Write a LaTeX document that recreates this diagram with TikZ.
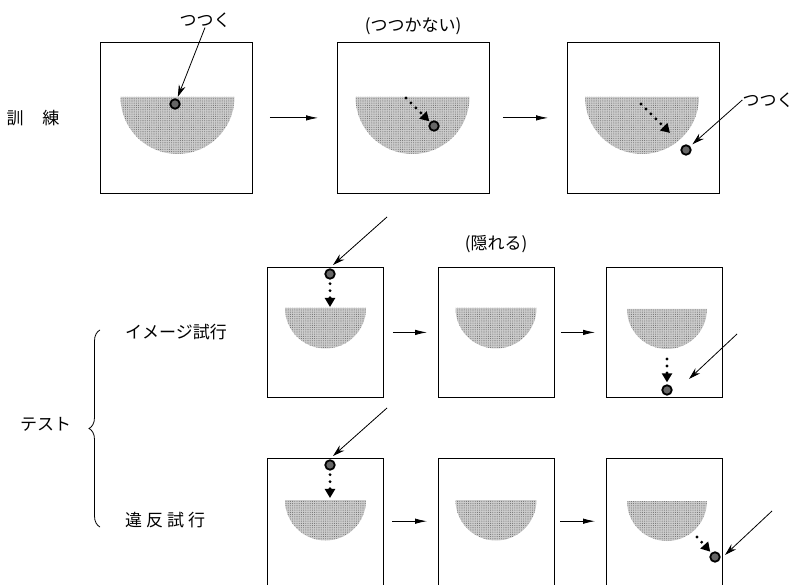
\documentclass[tikz,border=0pt]{standalone}
\usepackage{fontspec}
\newfontfamily\jp{Noto Sans CJK JP}
\usetikzlibrary{arrows.meta,decorations.pathreplacing,patterns.meta}

% half disk with flat top: centre x, top y, radius
\newcommand\halfdisk[3]{%
  \fill[stipple] ({#1-#3},#2) arc[start angle=180,end angle=360,radius=#3pt] -- cycle;
  \fill[stipdots] ({#1-#3},#2) arc[start angle=180,end angle=360,radius=#3pt] -- cycle;}

\begin{document}
\begin{tikzpicture}[x=1pt,y=-1pt,
  frame/.style={draw, line width=0.8pt, inner sep=0pt, anchor=north west},
  openframe/.style={inner sep=0pt, anchor=north west},
  stipple/.style={fill=black!20},
  stipdots/.style={pattern={Dots[distance=2.2pt, radius=0.55pt]}, pattern color=black!55},
  ball/.style={circle, draw, fill=black!60, line width=1.8pt, minimum size=9.5pt, inner sep=0pt},
  dotarrow/.style={line width=3.2pt, line cap=round, dash pattern=on 0pt off 7pt,
                   -{Triangle[length=9pt,width=10pt]}},
  flow/.style={line width=0.8pt, -{Latex[length=12pt,width=5.5pt]}},
  pointer/.style={line width=0.8pt, -{Stealth[length=12pt,width=7pt]}},
  lbl/.style={font=\jp\fontsize{17}{19}\selectfont, inner sep=0pt}]

\clip (0,0) rectangle (796,585);

% ---------- training row ----------
\node[frame, minimum width=152pt, minimum height=151pt] (t1) at (100,42) {};
\node[frame, minimum width=152pt, minimum height=151pt] (t2) at (337,42) {};
\node[frame, minimum width=152pt, minimum height=151pt] (t3) at (567,42) {};
\halfdisk{177.5}{97}{57}
\halfdisk{412.5}{97}{57}
\halfdisk{642}{97}{57}

\node[ball] (b1) at (175,104) {};
\node[ball] (b2) at (434,126) {};
\node[ball] (b3) at (686,150) {};

\coordinate (d2) at (406,98);
\draw[dotarrow, shorten >=1pt] (d2) -- (b2);
\coordinate (d3s) at (641,104);
\coordinate (d3e) at (670,133);
\draw[dotarrow] (d3s) -- (d3e);

\node[lbl] (peck1) at (205,20) {つつく};
\node[lbl] (nopeck) at (413,26) {(つつかない)};
\node[lbl] (peck2) at (768,100) {つつく};
\draw[pointer, shorten >=2pt] (peck1.south) -- (b1);
\draw[pointer, shorten >=3pt] (peck2.west) -- (b3);

\draw[flow, shorten <=17pt, shorten >=19pt] (t1) -- (t2);
\draw[flow, shorten <=13pt, shorten >=19pt] (t2) -- (t3);

\node[lbl] (train) at (33,118) {訓\hspace{19pt}練};

% ---------- imagery trial ----------
\node[frame, minimum width=116pt, minimum height=130pt] (m1) at (267,267) {};
\node[frame, minimum width=116pt, minimum height=130pt] (m2) at (438,267) {};
\node[frame, minimum width=116pt, minimum height=130pt] (m3) at (606,267) {};
\halfdisk{325.5}{308}{40.5}
\halfdisk{496}{308}{40.5}
\halfdisk{667}{309}{40}

\node[ball] (b4) at (330,274) {};
\coordinate (d4e) at (330,307);
\draw[dotarrow, shorten <=4pt] (b4) -- (d4e);
\node[ball] (b6) at (667,390) {};
\coordinate (d6s) at (667,359);
\draw[dotarrow, shorten >=2pt] (d6s) -- (b6);

\coordinate (p4s) at (387,217);
\coordinate (p4e) at (333,265);
\draw[pointer] (p4s) -- (p4e);
\coordinate (p6s) at (737,334);
\coordinate (p6e) at (689,379);
\draw[pointer] (p6s) -- (p6e);

\node[lbl] (hide) at (496,244) {(隠れる)};
\draw[flow, shorten <=9pt, shorten >=11pt] (m1) -- (m2);
\draw[flow, shorten <=6pt, shorten >=11pt] (m2) -- (m3);

\node[lbl, anchor=west] (imag) at (125,332) {イメージ試行};

% ---------- violation trial ----------
\node[openframe, minimum width=116pt, minimum height=126pt] (v1) at (267,458) {};
\node[openframe, minimum width=116pt, minimum height=126pt] (v2) at (438,458) {};
\node[openframe, minimum width=116pt, minimum height=126pt] (v3) at (606,458) {};
\foreach \v in {v1,v2,v3}
  \draw[line width=0.8pt] ([yshift=-12pt]\v.south west) -- (\v.north west)
        -- (\v.north east) -- ([yshift=-12pt]\v.south east);
\halfdisk{325.5}{500}{40.5}
\halfdisk{496}{500}{40.5}
\halfdisk{667}{501}{40}

\node[ball] (b7) at (330,465) {};
\coordinate (d7e) at (330,498);
\draw[dotarrow, shorten <=4pt] (b7) -- (d7e);
\node[ball] (b9) at (715,557) {};
\coordinate (d9s) at (697,537);
\draw[dotarrow, shorten >=1.5pt] (d9s) -- (b9);

\coordinate (p7s) at (387,408);
\coordinate (p7e) at (333,456);
\draw[pointer] (p7s) -- (p7e);
\coordinate (p9s) at (772,511);
\coordinate (p9e) at (725,555);
\draw[pointer] (p9s) -- (p9e);

\draw[flow, shorten <=9pt, shorten >=11pt] (v1) -- (v2);
\draw[flow, shorten <=6pt, shorten >=11pt] (v2) -- (v3);

\node[lbl, anchor=west] (viol) at (125,520) {違\hspace{4pt}反\hspace{4pt}試\hspace{4pt}行};

% ---------- test brace ----------
\draw[line width=0.8pt, decorate, decoration={brace, amplitude=11pt}] (100,527) -- (100,330);
\node[lbl, anchor=west] (test) at (20,424) {テスト};

\end{tikzpicture}
\end{document}
